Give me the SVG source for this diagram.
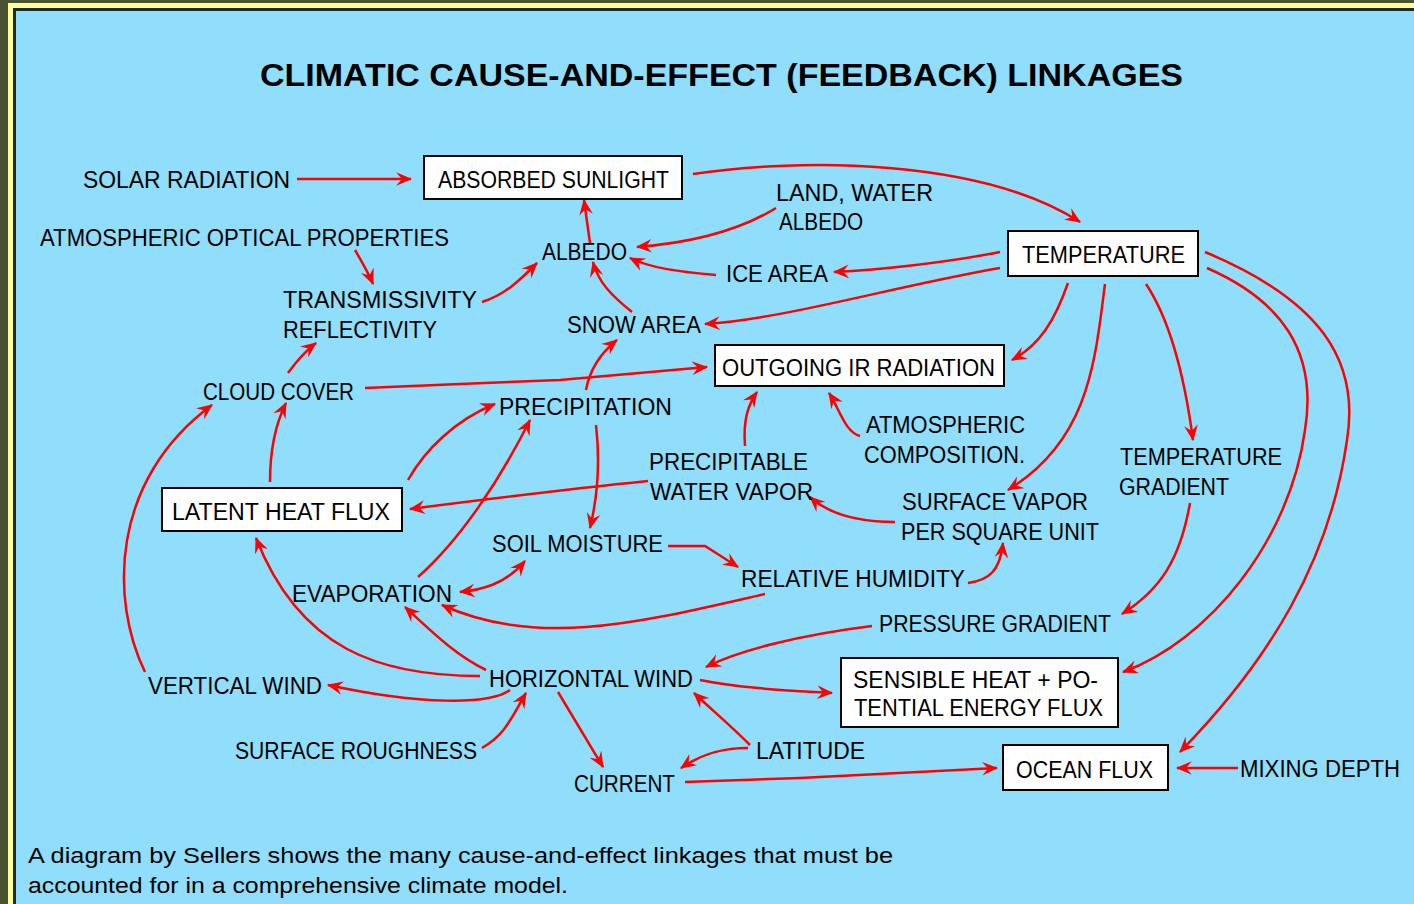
<svg xmlns="http://www.w3.org/2000/svg" width="1414" height="904" viewBox="0 0 1414 904">
<style>
text{font-family:"Liberation Sans",Arial,sans-serif;fill:#000}
.t{font-size:32px;font-weight:bold}
.l{font-size:23px}
.cap{font-size:22px}
.box{fill:#fff;stroke:#000;stroke-width:2}
.c{fill:none;stroke:#f00;stroke-width:2.5;marker-end:url(#ah)}
.d{marker-start:url(#ah)}
</style>
<defs>
<marker id="ah" viewBox="0 0 14 12" refX="13" refY="6" markerWidth="16" markerHeight="14" markerUnits="userSpaceOnUse" orient="auto-start-reverse">
<path d="M0,0 L14,6 L0,12 L5,6 z" fill="#f00"/>
</marker>
</defs>
<rect x="0" y="0" width="1414" height="904" fill="#4a5232"/>
<rect x="8" y="3" width="1406" height="901" fill="#ffff99"/>
<rect x="13" y="8" width="1401" height="896" fill="#1e2a30"/>
<rect x="16" y="11" width="1398" height="893" fill="#90ddfc"/>
<text class="t" x="260" y="86" textLength="923" lengthAdjust="spacingAndGlyphs">CLIMATIC CAUSE-AND-EFFECT (FEEDBACK) LINKAGES</text>

<g id="connectors">
<path class="c" d="M297,179 L411,179"/>
<path class="c" d="M693,174 C800,158 980,158 1080,222"/>
<path class="c" d="M776,208 C740,230 690,243 637,247"/>
<path class="c" d="M716,275 C680,272 650,268 630,258"/>
<path class="c" d="M1000,252 C950,262 880,270 834,272"/>
<path class="c" d="M1000,268 C900,285 780,320 705,324"/>
<path class="c" d="M590,243 L584,200"/>
<path class="c" d="M632,312 C612,296 598,282 593,262"/>
<path class="c" d="M355,250 C362,262 368,272 373,284"/>
<path class="c" d="M482,302 C505,295 520,280 537,263"/>
<path class="c" d="M288,373 C296,362 304,352 316,343"/>
<path class="c" d="M365,388 L460,384 L560,380 L707,367"/>
<path class="c" d="M586,390 C590,368 602,352 617,340"/>
<path class="c" d="M596,425 C600,460 598,495 590,528"/>
<path class="c" d="M648,481 C560,490 480,500 410,509"/>
<path class="c" d="M745,446 C743,420 748,405 757,392"/>
<path class="c" d="M860,436 C845,432 840,410 829,393"/>
<path class="c" d="M1068,283 C1055,320 1040,345 1012,360"/>
<path class="c" d="M1105,284 C1095,360 1090,440 1008,490"/>
<path class="c" d="M1146,284 C1170,320 1185,380 1193,440"/>
<path class="c" d="M1207,268 C1280,300 1318,350 1305,430 C1290,540 1210,640 1123,672"/>
<path class="c" d="M1205,252 C1320,300 1360,360 1347,440 C1330,560 1270,660 1180,752"/>
<path class="c" d="M1190,503 C1180,560 1160,590 1122,614"/>
<path class="c" d="M895,522 C860,522 830,515 810,497"/>
<path class="c" d="M968,583 C990,580 1000,570 1003,543"/>
<path class="c" d="M668,546 L705,546 L738,567"/>
<path class="c d" d="M460,592 C480,590 505,585 525,561"/>
<path class="c" d="M765,594 C650,620 540,650 442,605"/>
<path class="c" d="M418,577 C460,540 500,480 530,420"/>
<path class="c" d="M408,480 C425,450 455,420 495,404"/>
<path class="c" d="M270,482 C270,450 275,425 286,403"/>
<path class="c" d="M145,672 C110,600 110,480 212,405"/>
<path class="c" d="M480,676 C380,676 300,650 256,538"/>
<path class="c" d="M486,670 C455,655 430,630 405,607"/>
<path class="c" d="M510,690 C490,705 420,705 328,685"/>
<path class="c" d="M482,748 C505,735 510,720 526,693"/>
<path class="c" d="M558,692 C575,720 590,745 603,767"/>
<path class="c" d="M872,626 C800,635 740,650 706,667"/>
<path class="c" d="M700,680 C740,688 780,690 832,693"/>
<path class="c" d="M750,745 C730,725 712,710 694,693"/>
<path class="c" d="M748,748 C720,748 700,755 681,768"/>
<path class="c" d="M685,782 L800,778 L997,768"/>
<path class="c" d="M1238,768 L1177,768"/>
</g>

<g id="absorbed-sunlight"><rect class="box" x="424" y="156" width="258" height="43"/><text class="l" x="438" y="188" textLength="231" lengthAdjust="spacingAndGlyphs">ABSORBED SUNLIGHT</text></g>
<g id="temperature"><rect class="box" x="1008" y="231" width="190" height="45"/><text class="l" x="1022" y="263" textLength="163" lengthAdjust="spacingAndGlyphs">TEMPERATURE</text></g>
<g id="outgoing-ir"><rect class="box" x="715" y="345" width="289" height="41"/><text class="l" x="722" y="376" textLength="273" lengthAdjust="spacingAndGlyphs">OUTGOING IR RADIATION</text></g>
<g id="latent-heat-flux"><rect class="box" x="162" y="488" width="240" height="43"/><text class="l" x="172" y="520" textLength="218" lengthAdjust="spacingAndGlyphs">LATENT HEAT FLUX</text></g>
<g id="sensible-heat"><rect class="box" x="841" y="658" width="277" height="69"/><text class="l" x="853" y="688" textLength="245" lengthAdjust="spacingAndGlyphs">SENSIBLE HEAT + PO-</text><text class="l" x="854" y="716" textLength="249" lengthAdjust="spacingAndGlyphs">TENTIAL ENERGY FLUX</text></g>
<g id="ocean-flux"><rect class="box" x="1003" y="745" width="165" height="45"/><text class="l" x="1016" y="778" textLength="137" lengthAdjust="spacingAndGlyphs">OCEAN FLUX</text></g>

<g id="solar-radiation"><text class="l" x="83" y="188" textLength="207" lengthAdjust="spacingAndGlyphs">SOLAR RADIATION</text></g>
<g id="atm-optical"><text class="l" x="40" y="246" textLength="409" lengthAdjust="spacingAndGlyphs">ATMOSPHERIC OPTICAL PROPERTIES</text></g>
<g id="land-water-albedo"><text class="l" x="776" y="201" textLength="157" lengthAdjust="spacingAndGlyphs">LAND, WATER</text><text class="l" x="779" y="230" textLength="84" lengthAdjust="spacingAndGlyphs">ALBEDO</text></g>
<g id="albedo"><text class="l" x="542" y="260" textLength="85" lengthAdjust="spacingAndGlyphs">ALBEDO</text></g>
<g id="ice-area"><text class="l" x="726" y="282" textLength="102" lengthAdjust="spacingAndGlyphs">ICE AREA</text></g>
<g id="transmissivity"><text class="l" x="283" y="308" textLength="194" lengthAdjust="spacingAndGlyphs">TRANSMISSIVITY</text><text class="l" x="283" y="338" textLength="154" lengthAdjust="spacingAndGlyphs">REFLECTIVITY</text></g>
<g id="snow-area"><text class="l" x="567" y="333" textLength="134" lengthAdjust="spacingAndGlyphs">SNOW AREA</text></g>
<g id="cloud-cover"><text class="l" x="203" y="400" textLength="151" lengthAdjust="spacingAndGlyphs">CLOUD COVER</text></g>
<g id="precipitation"><text class="l" x="499" y="415" textLength="173" lengthAdjust="spacingAndGlyphs">PRECIPITATION</text></g>
<g id="precipitable-water-vapor"><text class="l" x="649" y="470" textLength="159" lengthAdjust="spacingAndGlyphs">PRECIPITABLE</text><text class="l" x="650" y="500" textLength="163" lengthAdjust="spacingAndGlyphs">WATER VAPOR</text></g>
<g id="atm-composition"><text class="l" x="866" y="433" textLength="159" lengthAdjust="spacingAndGlyphs">ATMOSPHERIC</text><text class="l" x="864" y="463" textLength="161" lengthAdjust="spacingAndGlyphs">COMPOSITION.</text></g>
<g id="temperature-gradient"><text class="l" x="1120" y="465" textLength="162" lengthAdjust="spacingAndGlyphs">TEMPERATURE</text><text class="l" x="1119" y="495" textLength="110" lengthAdjust="spacingAndGlyphs">GRADIENT</text></g>
<g id="surface-vapor"><text class="l" x="902" y="510" textLength="186" lengthAdjust="spacingAndGlyphs">SURFACE VAPOR</text><text class="l" x="901" y="540" textLength="198" lengthAdjust="spacingAndGlyphs">PER SQUARE UNIT</text></g>
<g id="soil-moisture"><text class="l" x="492" y="552" textLength="171" lengthAdjust="spacingAndGlyphs">SOIL MOISTURE</text></g>
<g id="relative-humidity"><text class="l" x="741" y="587" textLength="224" lengthAdjust="spacingAndGlyphs">RELATIVE HUMIDITY</text></g>
<g id="evaporation"><text class="l" x="292" y="602" textLength="160" lengthAdjust="spacingAndGlyphs">EVAPORATION</text></g>
<g id="pressure-gradient"><text class="l" x="879" y="632" textLength="232" lengthAdjust="spacingAndGlyphs">PRESSURE GRADIENT</text></g>
<g id="vertical-wind"><text class="l" x="148" y="694" textLength="174" lengthAdjust="spacingAndGlyphs">VERTICAL WIND</text></g>
<g id="horizontal-wind"><text class="l" x="489" y="687" textLength="204" lengthAdjust="spacingAndGlyphs">HORIZONTAL WIND</text></g>
<g id="surface-roughness"><text class="l" x="235" y="759" textLength="242" lengthAdjust="spacingAndGlyphs">SURFACE ROUGHNESS</text></g>
<g id="latitude"><text class="l" x="756" y="759" textLength="109" lengthAdjust="spacingAndGlyphs">LATITUDE</text></g>
<g id="current"><text class="l" x="574" y="792" textLength="101" lengthAdjust="spacingAndGlyphs">CURRENT</text></g>
<g id="mixing-depth"><text class="l" x="1240" y="777" textLength="160" lengthAdjust="spacingAndGlyphs">MIXING DEPTH</text></g>

<text class="cap" x="28" y="863" textLength="865" lengthAdjust="spacingAndGlyphs">A diagram by Sellers shows the many cause-and-effect linkages that must be</text>
<text class="cap" x="28" y="893" textLength="540" lengthAdjust="spacingAndGlyphs">accounted for in a comprehensive climate model.</text>
</svg>
